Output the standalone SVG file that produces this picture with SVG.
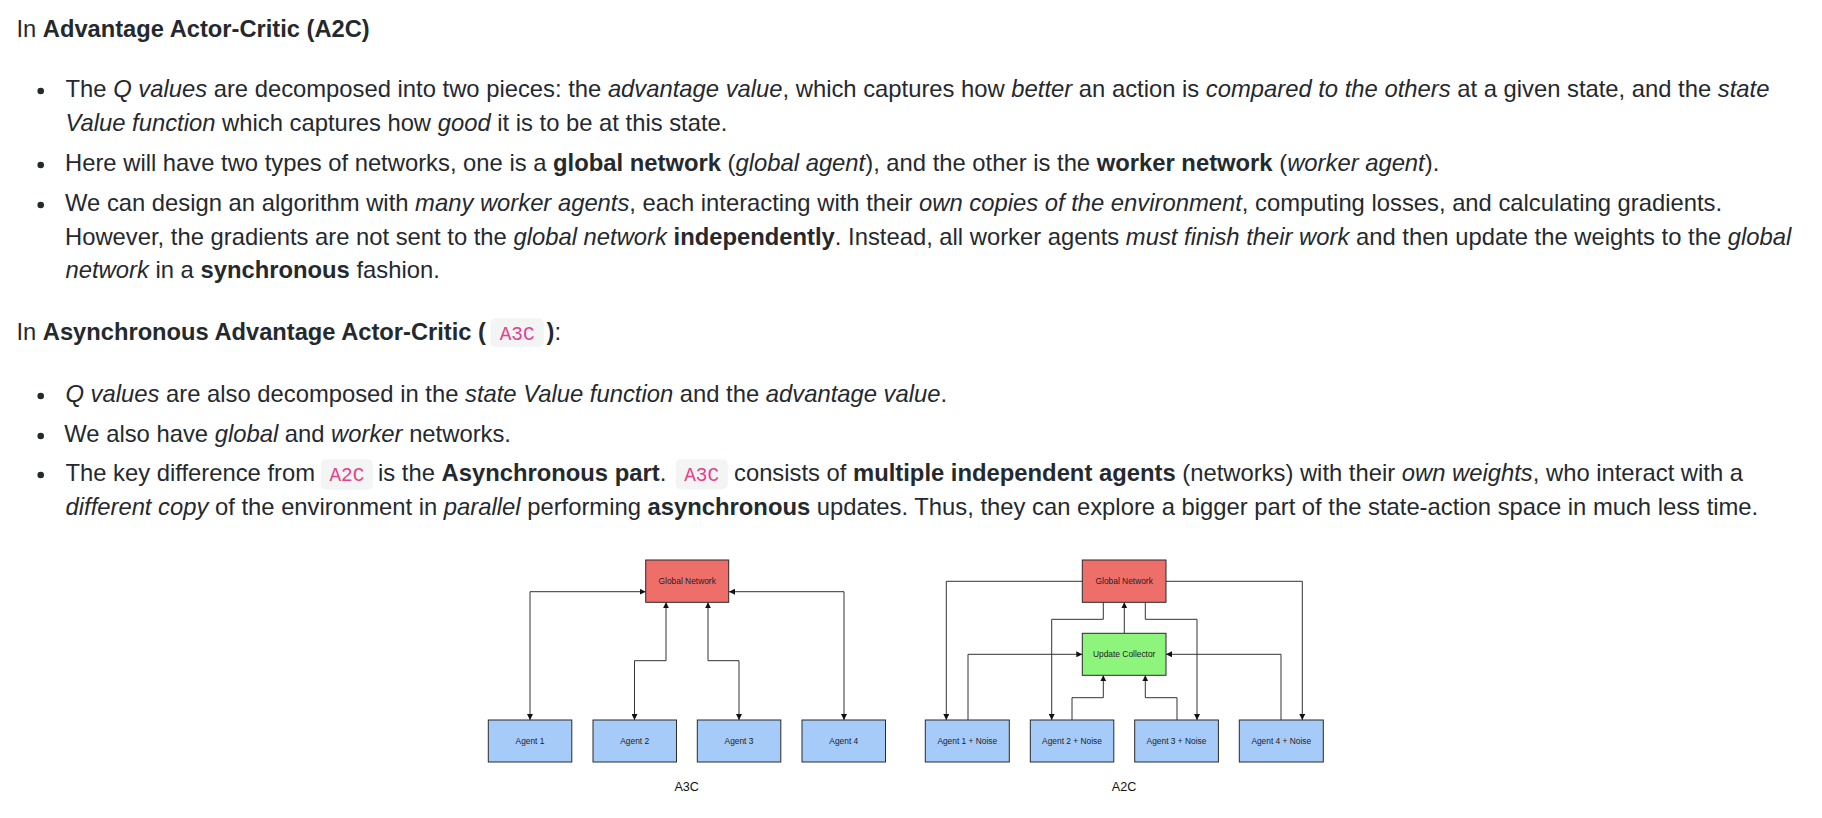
<svg xmlns="http://www.w3.org/2000/svg" width="1822" height="818" viewBox="0 0 1822 818">
<style>
.t{font-family:"Liberation Sans",Arial,Helvetica,sans-serif;font-size:23.8px;fill:#24292e}
.h{font-size:23.7px}
.i{font-style:italic}
.b{font-weight:bold}
.code{font-family:"Liberation Mono","DejaVu Sans Mono",monospace;font-size:19.4px;fill:#e3428a;text-anchor:middle}
.cbg{fill:#f3f4f4}
.dot{fill:#24292e}
.box{stroke:#2a2a2a;stroke-width:1}
.gn{fill:#ee6f6a}
.uc{fill:#8ef57c}
.ag{fill:#a6cbf8}
.lbl{font-family:"Liberation Sans",Arial,sans-serif;font-size:8.4px;fill:#222222;text-anchor:middle}
.cap{font-family:"Liberation Sans",Arial,sans-serif;font-size:12.6px;fill:#111111;text-anchor:middle}
.ln{fill:none;stroke:#333333;stroke-width:1}
.bi{marker-start:url(#ah);marker-end:url(#ah)}
.uni{marker-end:url(#ah)}
</style>
<defs>
<marker id="ah" viewBox="0 0 6 6" refX="6" refY="3" markerWidth="6" markerHeight="6" markerUnits="userSpaceOnUse" orient="auto-start-reverse">
<path d="M0,0 L6,3 L0,6 Z" fill="#111111"/>
</marker>
</defs>
<rect width="1822" height="818" fill="#ffffff"/>

<g id="text">
<text class="t h" x="16.5" y="36.5">In <tspan class="b">Advantage Actor-Critic (A2C)</tspan></text>

<circle class="dot" cx="40.7" cy="91" r="3.3"/>
<text class="t" x="65.5" y="97">The <tspan class="i">Q values</tspan> are decomposed into two pieces: the <tspan class="i">advantage value</tspan>, which captures how <tspan class="i">better</tspan> an action is <tspan class="i">compared to the others</tspan> at a given state, and the <tspan class="i">state</tspan></text>
<text class="t" x="65.5" y="131"><tspan class="i">Value function</tspan> which captures how <tspan class="i">good</tspan> it is to be at this state.</text>

<circle class="dot" cx="40.7" cy="165" r="3.3"/>
<text class="t" x="65" y="171">Here will have two types of networks, one is a <tspan class="b">global network</tspan> (<tspan class="i">global agent</tspan>), and the other is the <tspan class="b">worker network</tspan> (<tspan class="i">worker agent</tspan>).</text>

<circle class="dot" cx="40.7" cy="205" r="3.3"/>
<text class="t" x="65" y="211">We can design an algorithm with <tspan class="i">many worker agents</tspan>, each interacting with their <tspan class="i">own copies of the environment</tspan>, computing losses, and calculating gradients.</text>
<text class="t" x="65" y="244.5">However, the gradients are not sent to the <tspan class="i">global network</tspan> <tspan class="b">independently</tspan>. Instead, all worker agents <tspan class="i">must finish their work</tspan> and then update the weights to the <tspan class="i">global</tspan></text>
<text class="t" x="65.5" y="278"><tspan class="i">network</tspan> in a <tspan class="b">synchronous</tspan> fashion.</text>

<text class="t h" x="16.5" y="340">In <tspan class="b">Asynchronous Advantage Actor-Critic (</tspan></text>
<rect class="cbg" x="490.5" y="318.3" width="53.3" height="29" rx="5"/>
<text class="code" x="517.2" y="340">A3C</text>
<text class="t h b" x="546.5" y="340">)<tspan font-weight="normal">:</tspan></text>

<circle class="dot" cx="40.7" cy="396" r="3.3"/>
<text class="t" x="65.5" y="401.7"><tspan class="i">Q values</tspan> are also decomposed in the <tspan class="i">state Value function</tspan> and the <tspan class="i">advantage value</tspan>.</text>

<circle class="dot" cx="40.7" cy="436" r="3.3"/>
<text class="t" x="64.3" y="441.5">We also have <tspan class="i">global</tspan> and <tspan class="i">worker</tspan> networks.</text>

<circle class="dot" cx="40.7" cy="475" r="3.3"/>
<text class="t" x="65.5" y="481">The key difference from</text>
<rect class="cbg" x="321" y="459.3" width="51.7" height="30.5" rx="5"/>
<text class="code" x="346.9" y="481">A2C</text>
<text class="t" x="378" y="481">is the <tspan class="b">Asynchronous part</tspan>.</text>
<rect class="cbg" x="675.7" y="459.3" width="52" height="30" rx="5"/>
<text class="code" x="701.7" y="481">A3C</text>
<text class="t" x="734" y="481">consists of <tspan class="b">multiple independent agents</tspan> (networks) with their <tspan class="i">own weights</tspan>, who interact with a</text>
<text class="t" x="65.5" y="515"><tspan class="i">different copy</tspan> of the environment in <tspan class="i">parallel</tspan> performing <tspan class="b">asynchronous</tspan> updates. Thus, they can explore a bigger part of the state-action space in much less time.</text>
</g>

<g id="connectors">
<path class="ln bi" d="M530,720 V591.7 H645.7"/>
<path class="ln bi" d="M634.5,720 V660.7 H666 V602.3"/>
<path class="ln bi" d="M739,720 V660.7 H708 V602.3"/>
<path class="ln bi" d="M844,720 V591.7 H729"/>

<path class="ln uni" d="M1082.3,581.3 H946.3 V720"/>
<path class="ln uni" d="M1166,581.3 H1302.3 V720"/>
<path class="ln uni" d="M1103.3,602.3 V619.3 H1051.7 V720"/>
<path class="ln uni" d="M1145.3,602.3 V619.3 H1197 V720"/>
<path class="ln uni" d="M1124.3,633.3 V602.3"/>
<path class="ln uni" d="M968,720 V654.3 H1082.3"/>
<path class="ln uni" d="M1281,720 V654.3 H1166"/>
<path class="ln uni" d="M1072,720 V697.7 H1103.3 V675.3"/>
<path class="ln uni" d="M1177,720 V697.7 H1145.3 V675.3"/>
</g>

<g id="a3c-global">
<rect class="box gn" x="645.7" y="560" width="83" height="42.3"/>
<text class="lbl" x="687.2" y="584">Global Network</text>
</g>
<g id="a3c-agent1">
<rect class="box ag" x="488.3" y="720" width="83.5" height="42"/>
<text class="lbl" x="530" y="743.7">Agent 1</text>
</g>
<g id="a3c-agent2">
<rect class="box ag" x="593" y="720" width="83.5" height="42"/>
<text class="lbl" x="634.7" y="743.7">Agent 2</text>
</g>
<g id="a3c-agent3">
<rect class="box ag" x="697.3" y="720" width="83.5" height="42"/>
<text class="lbl" x="739" y="743.7">Agent 3</text>
</g>
<g id="a3c-agent4">
<rect class="box ag" x="802" y="720" width="83.5" height="42"/>
<text class="lbl" x="843.8" y="743.7">Agent 4</text>
</g>
<text class="cap" x="686.7" y="791">A3C</text>

<g id="a2c-global">
<rect class="box gn" x="1082.3" y="560" width="83.7" height="42.3"/>
<text class="lbl" x="1124.2" y="584">Global Network</text>
</g>
<g id="a2c-collector">
<rect class="box uc" x="1082.3" y="633.3" width="83.7" height="42"/>
<text class="lbl" x="1124.2" y="656.7">Update Collector</text>
</g>
<g id="a2c-agent1">
<rect class="box ag" x="925.3" y="720" width="84" height="42"/>
<text class="lbl" x="967.3" y="743.7">Agent 1 + Noise</text>
</g>
<g id="a2c-agent2">
<rect class="box ag" x="1030.3" y="720" width="83.5" height="42"/>
<text class="lbl" x="1072" y="743.7">Agent 2 + Noise</text>
</g>
<g id="a2c-agent3">
<rect class="box ag" x="1134.7" y="720" width="83.7" height="42"/>
<text class="lbl" x="1176.5" y="743.7">Agent 3 + Noise</text>
</g>
<g id="a2c-agent4">
<rect class="box ag" x="1239.3" y="720" width="84" height="42"/>
<text class="lbl" x="1281.3" y="743.7">Agent 4 + Noise</text>
</g>
<text class="cap" x="1124" y="791">A2C</text>
</svg>
